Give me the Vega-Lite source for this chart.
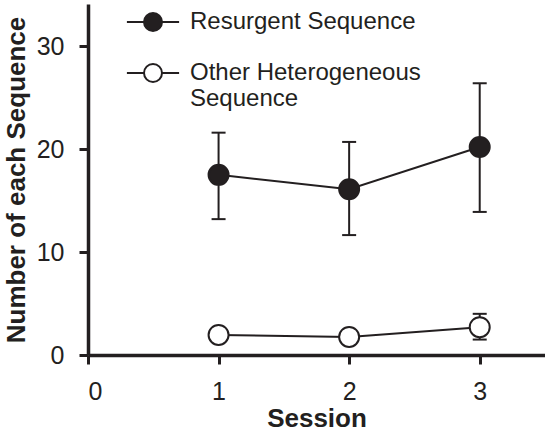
{
  "$schema": "https://vega.github.io/schema/vega-lite/v6.json",
  "width": 457,
  "height": 351,
  "autosize": {"type": "none"},
  "padding": {"left": 88, "top": 4, "right": 0, "bottom": 78},
  "background": "white",
  "config": {
    "view": {"stroke": null},
    "font": "Liberation Sans",
    "axis": {
      "domainColor": "#231f20",
      "domainWidth": 3.5,
      "tickColor": "#231f20",
      "tickWidth": 3,
      "tickSize": 9,
      "labelFont": "Liberation Sans",
      "labelFontSize": 25,
      "labelColor": "#231f20",
      "titleFont": "Liberation Sans",
      "titleFontSize": 26,
      "titleFontWeight": "bold",
      "titleColor": "#231f20",
      "grid": false
    },
    "legend": {
      "labelFont": "Liberation Sans",
      "labelFontSize": 24,
      "labelColor": "#231f20"
    }
  },
  "data": {
    "values": [
      {"session": 1, "series": "Resurgent Sequence", "mean": 17.5, "lo": 13.2, "hi": 21.6},
      {"session": 2, "series": "Resurgent Sequence", "mean": 16.1, "lo": 11.65, "hi": 20.7},
      {"session": 3, "series": "Resurgent Sequence", "mean": 20.2, "lo": 13.9, "hi": 26.4},
      {"session": 1, "series": "Other Heterogeneous Sequence", "mean": 1.95, "lo": 1.6, "hi": 2.3},
      {"session": 2, "series": "Other Heterogeneous Sequence", "mean": 1.75, "lo": 1.4, "hi": 2.1},
      {"session": 3, "series": "Other Heterogeneous Sequence", "mean": 2.7, "lo": 1.5, "hi": 4.0}
    ]
  },
  "encoding": {
    "x": {
      "field": "session",
      "type": "quantitative",
      "scale": {"domain": [0, 3.5], "nice": false, "zero": false},
      "axis": {"values": [0, 1, 2, 3], "title": "Session", "labelPadding": 15, "titlePadding": 1, "format": "d"}
    }
  },
  "layer": [
    {
      "mark": {"type": "rule", "color": "#231f20", "strokeWidth": 2},
      "encoding": {
        "y": {"field": "lo", "type": "quantitative"},
        "y2": {"field": "hi"}
      }
    },
    {
      "mark": {"type": "tick", "orient": "horizontal", "color": "#231f20", "thickness": 2, "size": 14, "opacity": 1},
      "encoding": {"y": {"field": "lo", "type": "quantitative"}}
    },
    {
      "mark": {"type": "tick", "orient": "horizontal", "color": "#231f20", "thickness": 2, "size": 14, "opacity": 1},
      "encoding": {"y": {"field": "hi", "type": "quantitative"}}
    },
    {
      "mark": {"type": "line", "color": "#231f20", "strokeWidth": 2},
      "encoding": {
        "y": {"field": "mean", "type": "quantitative"},
        "detail": {"field": "series"}
      }
    },
    {
      "mark": {"type": "point", "filled": true, "stroke": "#231f20", "strokeWidth": 2, "size": 400, "opacity": 1, "shape": "circle"},
      "encoding": {
        "y": {
          "field": "mean",
          "type": "quantitative",
          "scale": {"domain": [0, 34.1], "nice": false},
          "axis": {"values": [0, 10, 20, 30], "title": "Number of each Sequence", "labelPadding": 15, "titlePadding": 7}
        },
        "fill": {
          "field": "series",
          "type": "nominal",
          "scale": {"domain": ["Resurgent Sequence", "Other Heterogeneous Sequence"], "range": ["#231f20", "white"]},
          "legend": {
            "title": null,
            "orient": "none",
            "legendX": 53,
            "legendY": 6,
            "symbolType": "M-2.9,0L-1,0M1,0L2.9,0M-1,0A1,1 0 1,1 1,0A1,1 0 1,1 -1,0",
            "symbolSize": 324,
            "symbolStrokeColor": "#231f20",
            "symbolStrokeWidth": 2,
            "labelOffset": 25,
            "rowPadding": 25,
            "labelLimit": 400,
            "labelExpr": "datum.label == 'Other Heterogeneous Sequence' ? ['Other Heterogeneous', 'Sequence'] : datum.label",
            "encode": {"labels": {"update": {"lineHeight": {"value": 28}}}}
          }
        }
      }
    }
  ]
}
